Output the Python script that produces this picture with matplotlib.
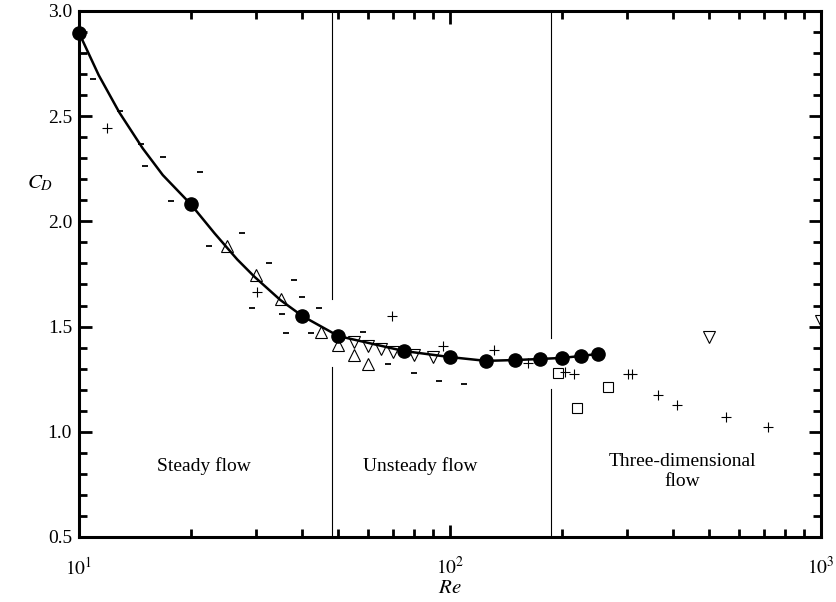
import matplotlib
matplotlib.use("Agg")
import matplotlib.pyplot as plt
from matplotlib.ticker import MultipleLocator, LogLocator, NullFormatter

# --- data ---
# fitted curve through the present results
curve_re = [10, 11.3, 12.84, 14.85, 16.82, 20, 23.2, 26.7, 29.7, 34.9, 40, 50, 75, 100, 125, 150, 175, 200, 225, 250]
curve_cd = [2.896, 2.695, 2.518, 2.347, 2.220, 2.082, 1.943, 1.819, 1.737, 1.626, 1.550, 1.455, 1.384,
            1.355, 1.337, 1.341, 1.346, 1.351, 1.360, 1.370]

# present computations (filled circles)
circle_re = [10, 20, 40, 50, 75, 100, 125, 150, 175, 200, 225, 250]
circle_cd = [2.896, 2.082, 1.550, 1.455, 1.384, 1.355, 1.337, 1.341, 1.346, 1.351, 1.360, 1.370]

# experimental points, dash markers
dash_re = [10.9, 12.9, 14.7, 15.1, 16.8, 21.2, 17.7, 22.4, 27.5, 32.5, 38.0, 40.0,
           29.3, 35.2, 44.4, 36.1, 42.3, 58.3, 68.1, 79.8, 93.2, 109]
dash_cd = [2.676, 2.524, 2.370, 2.264, 2.305, 2.235, 2.098, 1.884, 1.947, 1.803, 1.721, 1.640,
           1.588, 1.558, 1.588, 1.471, 1.471, 1.475, 1.322, 1.281, 1.241, 1.225]

# plus markers
plus_re = [11.9, 30.2, 69.8, 95.9, 131, 162, 204, 216, 301, 310, 363, 410, 553, 718]
plus_cd = [2.442, 1.662, 1.548, 1.409, 1.390, 1.328, 1.285, 1.273, 1.273, 1.273,
           1.175, 1.127, 1.072, 1.021]

# open triangles (up)
tri_up_re = [25, 30, 35, 45, 50, 55, 60]
tri_up_cd = [1.882, 1.743, 1.631, 1.475, 1.412, 1.365, 1.320]

# open triangles (down)
tri_dn_re = [55, 60, 65, 70, 80, 90, 500, 1000]
tri_dn_cd = [1.425, 1.407, 1.393, 1.380, 1.366, 1.354, 1.449, 1.528]

# open squares
sq_re = [196, 220, 266]
sq_cd = [1.278, 1.115, 1.214]

# regime boundaries and the gap left in each line around the data
bound_re = [48, 187]
gap_lo = [1.306, 1.202]
gap_hi = [1.629, 1.444]

regime_labels = ['Steady flow', 'Unsteady flow', 'Three-dimensional\nflow']
regime_re = [21.7, 83.2, 423]
regime_cd = [0.837, 0.837, 0.812]

xtick_vals = [10, 100, 1000]
xtick_labels = [r'$10^1$', r'$10^2$', r'$10^3$']
ytick_vals = [0.5, 1.0, 1.5, 2.0, 2.5, 3.0]
ytick_labels = ['0.5', '1.0', '1.5', '2.0', '2.5', '3.0']

plt.rcParams['font.family'] = ['Liberation Serif', 'DejaVu Serif']
plt.rcParams['mathtext.fontset'] = 'stix'

fig = plt.figure(figsize=(8.36, 6.02), dpi=100)
ax = fig.add_axes([0.0945, 0.108, 0.8876, 0.8738])

# regime boundaries (broken where they cross the data)
for x, lo, hi in zip(bound_re, gap_lo, gap_hi):
    ax.plot([x, x], [0.5, lo], color='black', lw=0.8)
    ax.plot([x, x], [hi, 3.0], color='black', lw=0.8)

ax.plot(dash_re, dash_cd, ls='none', marker='_', ms=4.5, mew=1.3, color='black')
ax.plot(plus_re, plus_cd, ls='none', marker='+', ms=7.5, mew=0.8, color='black')
ax.plot(tri_up_re, tri_up_cd, ls='none', marker='^', ms=8.5, mew=0.8,
        mfc='none', mec='black')
ax.plot(tri_dn_re, tri_dn_cd, ls='none', marker='v', ms=8.5, mew=0.8,
        mfc='none', mec='black')
ax.plot(sq_re, sq_cd, ls='none', marker='s', ms=7.5, mew=0.8, mfc='none', mec='black')

ax.plot(curve_re, curve_cd, color='black', lw=1.8, zorder=4)
ax.plot(circle_re, circle_cd, ls='none', marker='o', ms=9.5, color='black',
        zorder=5, clip_on=False)

for label, x, y in zip(regime_labels, regime_re, regime_cd):
    ax.text(x, y, label, ha='center', va='center', fontsize=14, linespacing=1.25)

ax.set_xscale('log')
ax.set_xlim(10, 1000)
ax.set_ylim(0.5, 3.0)

ax.set_xticks(xtick_vals)
ax.set_xticklabels(xtick_labels)
ax.xaxis.set_minor_locator(LogLocator(base=10, subs=range(2, 10)))
ax.xaxis.set_minor_formatter(NullFormatter())
ax.set_yticks(ytick_vals)
ax.set_yticklabels(ytick_labels)
ax.yaxis.set_minor_locator(MultipleLocator(0.1))

for s in ax.spines.values():
    s.set_linewidth(2.2)
ax.tick_params(which='both', direction='in', top=True, right=True, width=2, labelsize=14)
ax.tick_params(which='major', length=9)
ax.tick_params(which='minor', length=5.5)
ax.tick_params(axis='x', which='major', pad=14)
ax.tick_params(axis='y', which='major', pad=5)

ax.set_ylabel(r'$C_D$', rotation=0, fontsize=15)
ax.yaxis.set_label_coords(-0.052, 0.673)
ax.yaxis.label.set_va('center')
ax.set_xlabel(r'$Re$', fontsize=15)
ax.xaxis.set_label_coords(0.5, -0.097)
ax.xaxis.label.set_va('center')

fig.savefig('out.png', dpi=100)
